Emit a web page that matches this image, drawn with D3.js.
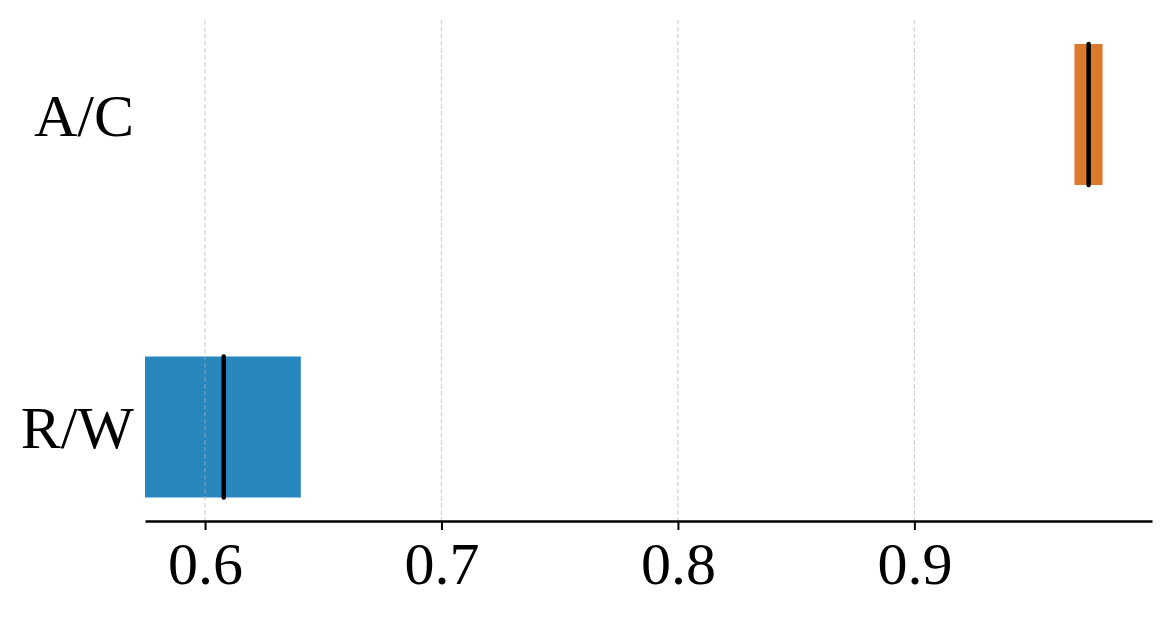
<!DOCTYPE html>
<html>
<head>
<meta charset="utf-8">
<script src="https://cdn.jsdelivr.net/npm/d3@7"></script>
<style>
  body { margin: 0; background: #fff; }
  text { font-family: "Liberation Serif", "DejaVu Serif", serif; }
</style>
</head>
<body>
<div id="chart"></div>
<script>
// data
const categories = ["A/C", "R/W"];
const lowVals = [0.9677, 0.5746];
const highVals = [0.9796, 0.6405];
const medianVals = [0.9737, 0.6079];
const colors = ["#dc7a2c", "#2888bd"];
const xTicks = [0.6, 0.7, 0.8, 0.9];

const width = 1172, height = 618;
const margin = {top: 20, right: 20, bottom: 97, left: 145};

const svg = d3.select("#chart").append("svg")
  .attr("width", width)
  .attr("height", height);

const x = d3.scaleLinear()
  .domain([0.5746, 1.0005])
  .range([margin.left, width - margin.right]);

const y = d3.scalePoint()
  .domain(categories)
  .range([114.5, 427]);

const barH = 141;
const axisY = height - margin.bottom;

const rows = categories.map((c, i) => ({
  cat: c, lo: lowVals[i], hi: highVals[i], med: medianVals[i], color: colors[i]
}));

// bars
svg.append("g").selectAll("rect")
  .data(rows)
  .enter().append("rect")
  .attr("x", d => x(d.lo))
  .attr("y", d => y(d.cat) - barH / 2)
  .attr("width", d => x(d.hi) - x(d.lo))
  .attr("height", barH)
  .attr("fill", d => d.color);

// grid
svg.append("g").selectAll("line")
  .data(xTicks)
  .enter().append("line")
  .attr("x1", d => x(d)).attr("x2", d => x(d))
  .attr("y1", margin.top).attr("y2", axisY)
  .attr("stroke", "#b0b0b0")
  .attr("stroke-opacity", 0.55)
  .attr("stroke-width", 1.3)
  .attr("stroke-dasharray", "4.5,2.5");

// medians
svg.append("g").selectAll("line")
  .data(rows)
  .enter().append("line")
  .attr("x1", d => x(d.med)).attr("x2", d => x(d.med))
  .attr("y1", d => y(d.cat) - barH / 2)
  .attr("y2", d => y(d.cat) + barH / 2)
  .attr("stroke", "#000")
  .attr("stroke-width", 4.5)
  .attr("stroke-linecap", "round");

// x axis
const xAxis = d3.axisBottom(x)
  .tickValues(xTicks)
  .tickFormat(d3.format(".1f"))
  .tickSize(9)
  .tickSizeOuter(0)
  .tickPadding(11);

const xg = svg.append("g")
  .attr("transform", `translate(0,${axisY})`)
  .call(xAxis);
xg.select(".domain").attr("stroke-width", 2.5);
xg.selectAll(".tick line").attr("stroke-width", 2);
xg.selectAll(".tick text")
  .style("font-family", "'Liberation Serif', serif")
  .attr("font-size", 60)
  .attr("fill", "#000");

// y labels
svg.append("g").selectAll("text")
  .data(rows)
  .enter().append("text")
  .attr("x", 134)
  .attr("y", d => y(d.cat) + 21)
  .attr("text-anchor", "end")
  .attr("font-size", 60)
  .text(d => d.cat);
</script>
</body>
</html>
